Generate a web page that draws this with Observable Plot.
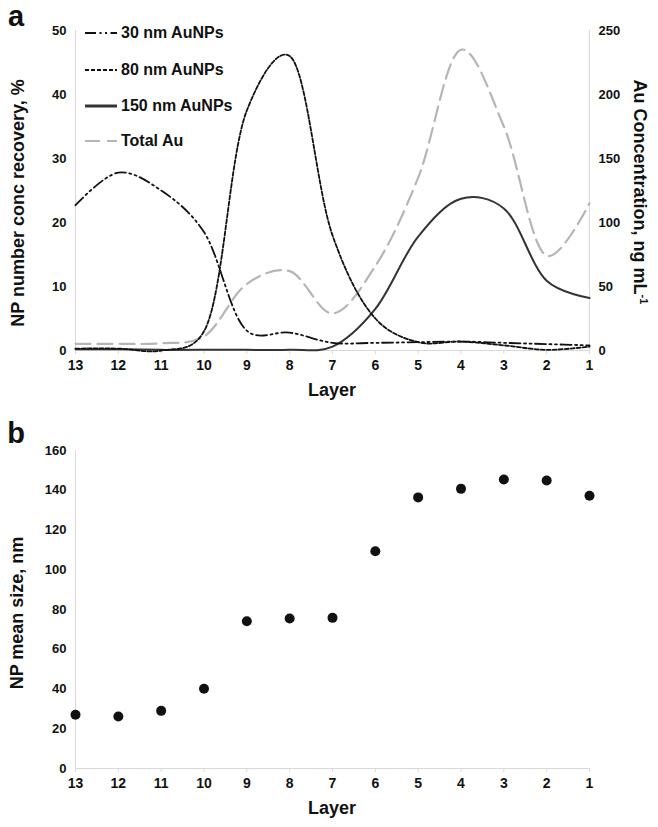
<!DOCTYPE html>
<html><head><meta charset="utf-8">
<script src="https://cdn.jsdelivr.net/npm/d3@7"></script>
<script src="https://cdn.jsdelivr.net/npm/@observablehq/plot@0.6"></script>
<style>
body{margin:0;background:#fff;font-family:"Liberation Sans",Arial,sans-serif;color:#111}
#wrap{position:relative;width:658px;height:827px;overflow:hidden}
.panel{position:absolute;left:0}
.abs{position:absolute;font-weight:bold;white-space:nowrap;line-height:1}
.rot{transform:translate(-50%,-50%) rotate(-90deg)}
.rotr{transform:translate(-50%,-50%) rotate(90deg)}
.ctr{transform:translate(-50%,-50%)}
.leg{position:absolute;left:84px;display:flex;align-items:center;font-weight:bold;font-size:16px;white-space:nowrap}
.leg svg{margin-right:3px}
</style></head><body>
<div id="wrap"></div>
<script>
// ---- data ----
const layers = [13,12,11,10,9,8,7,6,5,4,3,2,1];
const nm30   = [22.7,27.8,25.0,18.5,3.1,2.8,1.2,1.2,1.3,1.4,1.2,1.0,0.8];
const nm80   = [0.3,0.3,0.0,3.0,37.5,46,18,5.0,1.3,1.4,0.8,0.1,0.6];
const nm150  = [0.2,0.2,0.1,0.1,0.1,0.1,0.6,6.5,17.8,23.7,22.2,10.9,8.2];
const totalAu = [5.2,5.2,5.6,11,52,62,29,66,135,235,175,74,115];
const meanSize = [27.0,26.2,29.0,40.1,74.1,75.5,75.8,109.3,136.4,140.7,145.4,144.9,137.2];
const leftTicks = [0,10,20,30,40,50];
const rightTicks = [0,50,100,150,200,250];
const sizeTicks = [0,20,40,60,80,100,120,140,160];
const seriesNames = ["30 nm AuNPs","80 nm AuNPs","150 nm AuNPs","Total Au"];

const AU_FACTOR = 5; // right axis (250) ↔ left axis (50)
const rows = layers.map((L,i)=>({layer:L, a:nm30[i], b:nm80[i], c:nm150[i], t:totalAu[i], s:meanSize[i]}));

const axisGray = "#d9d9d9";
const wrap = document.getElementById("wrap");

// ---- panel a ----
const styles = [
  {stroke:"#111", strokeWidth:1.8, strokeDasharray:"11 3.5 2 3.5 2 3.5"},
  {stroke:"#111", strokeWidth:1.8, strokeDasharray:"4 2"},
  {stroke:"#333", strokeWidth:2},
  {stroke:"#b5b5b5", strokeWidth:2.2, strokeDasharray:"15 7"}
];
const curve = "catmull-rom";
const tension = 0.3; // alpha
const plotA = Plot.plot({
  width:658, height:400,
  marginLeft:75, marginRight:69, marginTop:30, marginBottom:50,
  style:{fontFamily:"Liberation Sans, Arial, sans-serif", fontWeight:"bold", color:"#111", background:"#fff"},
  x:{domain:[13,1], label:null},
  y:{domain:[0,50], label:null},
  marks:[
    Plot.ruleX([13], {stroke:axisGray}),
    Plot.ruleX([1], {stroke:axisGray}),
    Plot.ruleY([0], {stroke:axisGray}),
    Plot.axisX({ticks:layers, tickSize:4, tickPadding:6, fontSize:14, stroke:axisGray, tickFormat:d=>String(d), label:null}),
    Plot.axisY({ticks:leftTicks, tickSize:0, tickPadding:9, fontSize:13, label:null}),
    Plot.axisY(rightTicks.map(v=>v/AU_FACTOR), {anchor:"right", tickSize:0, tickPadding:9, fontSize:13, tickFormat:(d,i)=>String(rightTicks[i]), label:null}),
    Plot.line(rows, {x:"layer", y:d=>d.t/AU_FACTOR, curve, tension, ...styles[3]}),
    Plot.line(rows, {x:"layer", y:"c", curve, tension, ...styles[2]}),
    Plot.line(rows, {x:"layer", y:"b", curve, tension, ...styles[1]}),
    Plot.line(rows, {x:"layer", y:"a", curve, tension, ...styles[0]})
  ]
});
plotA.classList.add("panel"); plotA.style.top = "0px";
wrap.appendChild(plotA);

// ---- panel b ----
const plotB = Plot.plot({
  width:658, height:427,
  marginLeft:75, marginRight:69, marginTop:50, marginBottom:59,
  style:{fontFamily:"Liberation Sans, Arial, sans-serif", fontWeight:"bold", color:"#111", background:"#fff"},
  x:{domain:[13,1], label:null},
  y:{domain:[0,160], label:null},
  marks:[
    Plot.ruleX([13], {stroke:axisGray}),
    Plot.ruleY([0], {stroke:axisGray}),
    Plot.axisX({ticks:layers, tickSize:4, tickPadding:6, fontSize:14, stroke:axisGray, tickFormat:d=>String(d), label:null}),
    Plot.axisY({ticks:sizeTicks, tickSize:0, tickPadding:9, fontSize:13, label:null}),
    Plot.dot(rows, {x:"layer", y:"s", r:5, fill:"#111", stroke:"none"})
  ]
});
plotB.classList.add("panel"); plotB.style.top = "400px";
wrap.appendChild(plotB);

// ---- text overlays ----
function addText(html, cls, x, y, size){
  const d = document.createElement("div");
  d.className = "abs " + cls;
  d.style.left = x + "px"; d.style.top = y + "px"; d.style.fontSize = size + "px";
  d.innerHTML = html;
  wrap.appendChild(d);
}
addText("a", "ctr", 16, 16, 29);
addText("b", "ctr", 16, 433, 29);
addText("NP number conc recovery, %", "rot", 18, 203, 18);
addText("Au Concentration, ng mL<sup style='font-size:11px;vertical-align:6px'>-1</sup>", "rotr", 640, 192, 18);
addText("Layer", "ctr", 332, 390, 18);
addText("NP mean size, nm", "rot", 17, 613, 18);
addText("Layer", "ctr", 332, 808, 18);

// legend
const legY = [33, 70, 106, 141];
seriesNames.forEach((name,i)=>{
  const row = document.createElement("div");
  row.className = "leg";
  row.style.top = (legY[i]-9) + "px";
  const s = styles[i];
  row.innerHTML = `<svg width="34" height="18"><line x1="1" y1="9" x2="33" y2="9" stroke="${s.stroke}" stroke-width="${i===2?3:s.strokeWidth}" ${s.strokeDasharray?`stroke-dasharray="${s.strokeDasharray}"`:""}/></svg><span>${name}</span>`;
  wrap.appendChild(row);
});
</script>
</body></html>
